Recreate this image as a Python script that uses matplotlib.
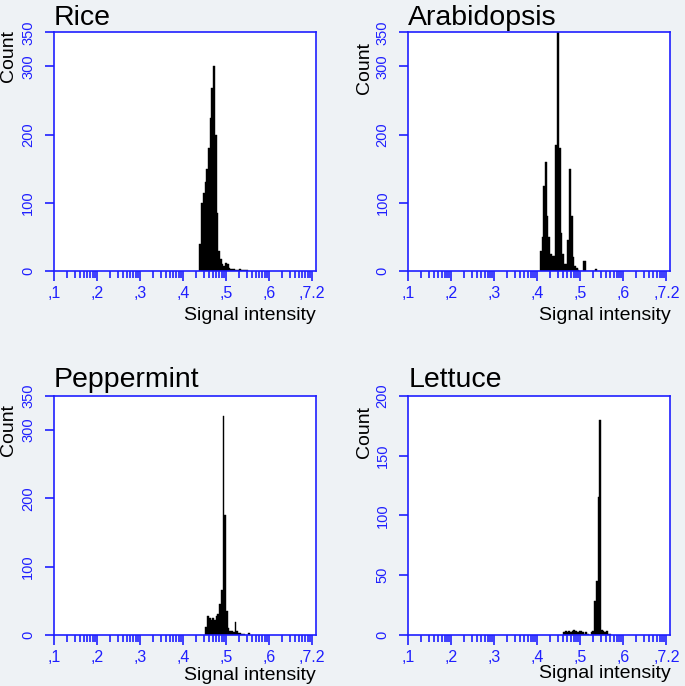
import numpy as np
import matplotlib
matplotlib.use("Agg")
import matplotlib.pyplot as plt

# histogram data (log10 signal intensity bins, width 0.04)
bin_w = 0.04

rice_start = 4.38
rice_counts = [40, 100, 115, 130, 150, 180, 225, 268, 300, 200, 85, 30, 18, 10, 8, 12,
               10, 5, 3, 3, 3, 2, 2, 3, 2, 1, 2, 2]

arab_start = 4.06
arab_counts = [30, 50, 125, 160, 80, 50, 25, 22, 22, 185, 355, 180, 55, 25, 10, 10,
               45, 150, 80, 20, 8, 5, 2, 0, 0, 15, 15, 0, 0, 0, 0, 0, 3]

pep_start = 4.52
pep_counts = [12, 27, 25, 22, 24, 22, 27, 30, 45, 65, 320, 175, 35, 10, 5, 5, 4, 18,
              5, 3, 2, 1, 1, 0, 0, 2]

let_start = 4.60
let_counts = [2, 3, 2, 3, 2, 3, 4, 3, 2, 3, 3, 2, 1, 2, 1, 0, 2, 3,
              28, 45, 115, 180, 4, 3, 2, 3, 1, 1]

titles = ["Rice", "Arabidopsis", "Peppermint", "Lettuce"]
starts = [rice_start, arab_start, pep_start, let_start]
counts = [rice_counts, arab_counts, pep_counts, let_counts]
yticks = [[0, 100, 200, 300, 350], [0, 100, 200, 300, 350],
          [0, 100, 200, 300, 350], [0, 50, 100, 150, 200]]
ymax = [350, 350, 350, 200]

xmajor = [1, 2, 3, 4, 5, 6, 7]
xlabels = [",1", ",2", ",3", ",4", ",5", ",6", ",7.2"]

blue = "#1f1fff"
bg = "#eef2f5"
font = ["Liberation Sans", "DejaVu Sans"]

W, H = 685, 686
fig = plt.figure(figsize=(6.85, 6.86), dpi=100, facecolor=bg)

# panel positions in pixels: left, top
boxes = [(54, 32.3), (408.3, 32.3), (54, 396), (408.3, 396)]
aw, ah = 262, 238.7
count_y = [56, 68, 430, 432]
title_y = [25, 25, 387, 387]
sig_y = [316, 316, 675, 674]
count_x = [9, 364, 9, 364]

minor = [d + np.log10(k) for d in range(1, 7) for k in range(2, 10)]

for i in range(4):
    lx, ty = boxes[i]
    ax = fig.add_axes([lx / W, 1 - (ty + ah) / H, aw / W, ah / H])
    ax.set_facecolor("white")
    edges = starts[i] + bin_w * np.arange(len(counts[i]))
    ax.bar(edges, counts[i], width=bin_w, align="edge", color="black",
           edgecolor="black", linewidth=0.3)
    ax.set_xlim(1, 1 + aw / 43)
    ax.set_ylim(0, ymax[i])
    ax.set_xticks(xmajor)
    ax.set_xticklabels(xlabels, color=blue, fontsize=11.5, family=font)
    ax.set_xticks(minor, minor=True)
    ax.set_yticks(yticks[i])
    ax.set_yticklabels([str(v) for v in yticks[i]], color=blue, fontsize=10.5,
                       family=font, rotation=90, va="center")
    ax.tick_params(axis="x", which="major", length=7, width=1.2, color=blue, pad=4)
    ax.tick_params(axis="x", which="minor", length=5, width=1.2, color=blue)
    ax.tick_params(axis="y", length=6.5, width=1.2, color=blue, pad=7)
    for s in ax.spines.values():
        s.set_color(blue)
        s.set_linewidth(1.2)

    fig.text(lx / W, 1 - title_y[i] / H, titles[i], fontsize=20.5, family=font,
             ha="left", va="baseline")
    fig.text(count_x[i] / W, 1 - count_y[i] / H, "Count", fontsize=14, family=font,
             rotation=90, ha="center", va="center")
    fig.text((lx + aw) / W, 1 - sig_y[i] / H, "Signal intensity", fontsize=14,
             family=font, ha="right", va="center")

fig.savefig("out.png", dpi=100, facecolor=bg)
